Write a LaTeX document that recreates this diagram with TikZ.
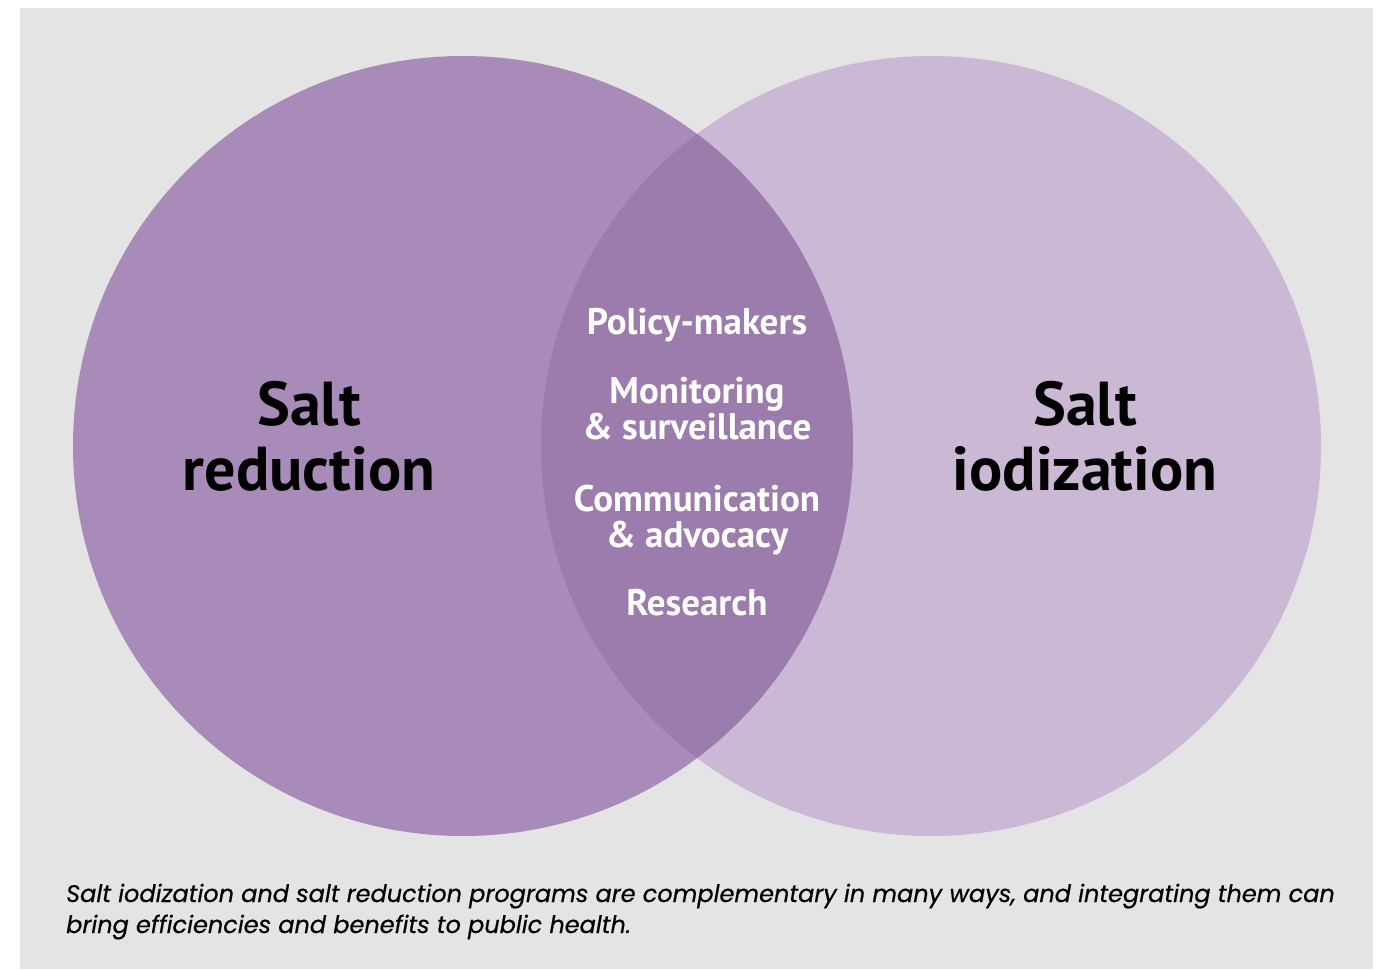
\documentclass[tikz,border=0pt]{standalone}
\usepackage{fontspec}
\setmainfont{PT Sans}
\newfontfamily\capfont{Poppins}[FakeBold=0.5]
\definecolor{bggray}{HTML}{E4E4E4}
\definecolor{leftc}{HTML}{A98BBA}
\definecolor{rightc}{HTML}{CBB8D5}
\definecolor{overc}{HTML}{9C7BAD}
\tikzset{
  bigl/.style={font=\bfseries\fontsize{62}{65}\selectfont, text=black, align=center, anchor=base, inner sep=0pt},
  midl/.style={font=\bfseries\fontsize{37}{36}\selectfont, text=white, align=center, anchor=base, inner sep=0pt},
  capl/.style={font=\capfont\itshape\fontsize{24}{31}\selectfont, text=black, align=left, anchor=base west, inner sep=0pt},
}
\begin{document}
\begin{tikzpicture}[x=1pt,y=-1pt]
\useasboundingbox (0,0) rectangle (1381,969);
\fill[bggray] (20,8) rectangle (1373,969);
\coordinate (cl) at (463,446);
\coordinate (cr) at (931,446);
\fill[rightc] (cr) circle[radius=390];
\fill[leftc] (cl) circle[radius=390];
\begin{scope}
  \clip (cl) circle[radius=390];
  \fill[overc] (cr) circle[radius=390];
\end{scope}
\node[bigl] (sr) at (309,490) {Salt\\reduction};
\node[bigl] (si) at (1085,490) {Salt\\iodization};
\node[midl] (p1) at (697,334) {Policy-makers};
\node[midl] (p2) at (697,439) {Monitoring\\\& surveillance};
\node[midl] (p3) at (697,547) {Communication\\\& advocacy};
\node[midl] (p4) at (697,615) {Research};
\node[capl] (cap) at (66,933) {Salt iodization and salt reduction programs are complementary in many ways, and integrating them can\\bring efficiencies and benefits to public health.};
\end{tikzpicture}
\end{document}
